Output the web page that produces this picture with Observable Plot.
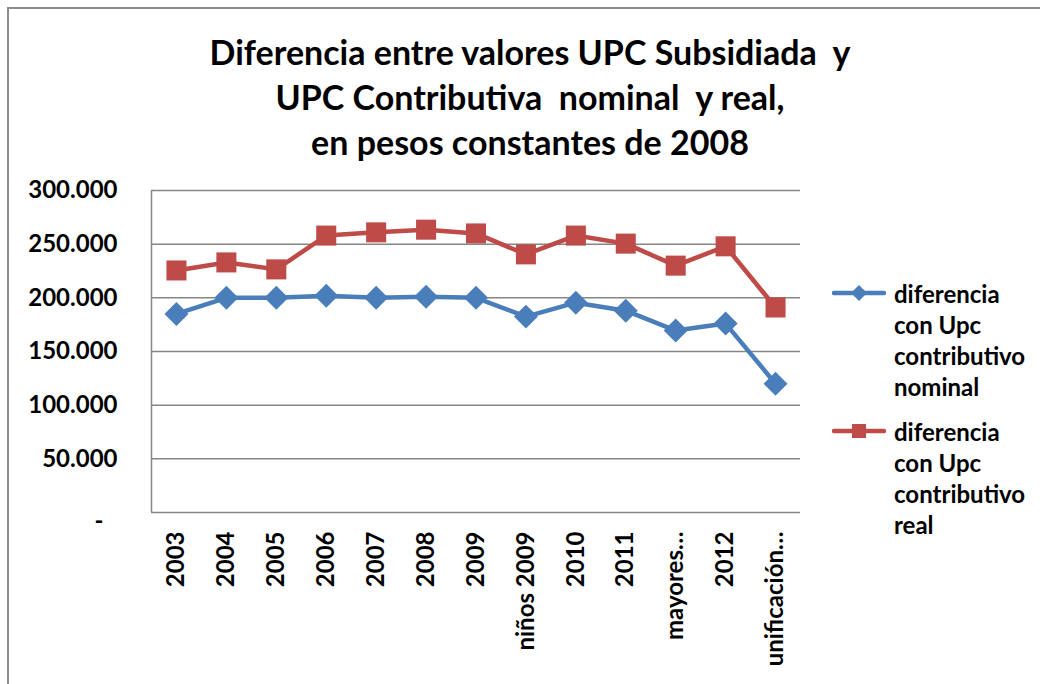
<!DOCTYPE html>
<html>
<head>
<meta charset="utf-8">
<script src="https://cdn.jsdelivr.net/npm/d3@7"></script>
<script src="https://cdn.jsdelivr.net/npm/@observablehq/plot@0.6"></script>
<style>
  html, body { margin: 0; padding: 0; background: #fff; }
  #wrap { position: relative; width: 1040px; height: 684px; overflow: hidden; font-family: Lato, "Open Sans", sans-serif; }
  #border { position: absolute; left: 7px; top: 7px; width: 1100px; height: 800px; border-left: 2px solid #8c8c8c; border-top: 2px solid #8c8c8c; }
  #title { position: absolute; left: 20px; top: 29px; width: 1020px; text-align: center; font-weight: 700; font-size: 34px; line-height: 45px; color: #000; }
  #chart { position: absolute; left: 0; top: 0; }
  #legend { position: absolute; left: 832px; top: 278px; font-weight: 700; font-size: 24px; line-height: 31px; color: #000; }
  .item { display: flex; align-items: flex-start; margin-bottom: 14px; }
  .item svg { flex: none; margin-top: 3px; margin-right: 8px; }
</style>
</head>
<body>
<div id="wrap">
  <div id="border"></div>
  <div id="chart"></div>
  <div id="title">Diferencia entre valores UPC Subsidiada&nbsp; y<br>UPC Contributiva&nbsp; nominal&nbsp; y real,<br>en pesos constantes de 2008</div>
  <div id="legend"></div>
</div>
<script>
const categories = ["2003","2004","2005","2006","2007","2008","2009","niños 2009","2010","2011","mayores…","2012","unificación…"];
const nominal = [185000, 200000, 200000, 202000, 200000, 201000, 200000, 182500, 195500, 188000, 169500, 176000, 120000];
const real = [225500, 233000, 226500, 258000, 261000, 263500, 260000, 240500, 258000, 250500, 230000, 248000, 191000];
const seriesNames = ["diferencia con Upc contributivo nominal", "diferencia con Upc contributivo real"];
const yTicks = [50000, 100000, 150000, 200000, 250000, 300000];
const colors = ["#4a7ebb", "#be4b48"];

const rowsNom = categories.map((c, i) => ({i, cat: c, value: nominal[i]}));
const rowsReal = categories.map((c, i) => ({i, cat: c, value: real[i]}));
const fmt = d3.formatLocale({thousands: ".", decimal: ",", grouping: [3], currency: ["", ""]}).format(",");

const chart = Plot.plot({
  width: 1040,
  height: 684,
  marginTop: 190,
  marginBottom: 172,
  marginLeft: 151,
  marginRight: 240,
  style: {fontFamily: "Lato, 'Open Sans', sans-serif", fontWeight: 700, fontSize: "24px", color: "#000", background: "transparent"},
  x: {type: "linear", domain: [-0.5, categories.length - 0.5]},
  y: {domain: [0, 300000]},
  marks: [
    Plot.gridY(yTicks, {stroke: "#868686", strokeOpacity: 1, strokeWidth: 1.5}),
    Plot.ruleY([0], {stroke: "#868686", strokeWidth: 1.5}),
    Plot.ruleX([-0.5], {stroke: "#868686", strokeWidth: 1.5}),
    Plot.axisY({ticks: yTicks, tickSize: 0, tickPadding: 34, tickFormat: fmt, label: null, fontSize: 24, fontWeight: 700}),
    Plot.text([0], {x: -0.5, y: d => d, text: () => "-", dx: -48, dy: 9, fontSize: 24, fontWeight: 700, textAnchor: "end"}),
    Plot.axisX({ticks: d3.range(categories.length), tickFormat: i => categories[i], tickRotate: -90, tickSize: 0, tickPadding: 19, label: null, fontSize: 24, fontWeight: 700}),
    Plot.line(rowsNom, {x: "i", y: "value", stroke: colors[0], strokeWidth: 4.5}),
    Plot.line(rowsReal, {x: "i", y: "value", stroke: colors[1], strokeWidth: 4.5}),
    Plot.dot(rowsNom, {x: "i", y: "value", symbol: "diamond2", r: 10.8, fill: colors[0], stroke: "none"}),
    Plot.dot(rowsReal, {x: "i", y: "value", symbol: "square", r: 11.3, fill: colors[1], stroke: "none"})
  ]
});
document.getElementById("chart").appendChild(chart);

// legend
const legend = document.getElementById("legend");
const legendLines = [["diferencia", "con Upc", "contributivo", "nominal"], ["diferencia", "con Upc", "contributivo", "real"]];
legendLines.forEach((lines, k) => {
  const item = document.createElement("div");
  item.className = "item";
  const sym = k === 0
    ? `<polygon points="27,4 35,12 27,20 19,12" fill="${colors[0]}"/>`
    : `<rect x="20" y="5" width="14" height="14" fill="${colors[1]}"/>`;
  item.innerHTML = `<svg width="54" height="24"><line x1="2" x2="52" y1="12" y2="12" stroke="${colors[k]}" stroke-width="4.5" stroke-linecap="round"/>${sym}</svg><div title="${seriesNames[k]}">${lines.join("<br>")}</div>`;
  legend.appendChild(item);
});
</script>
</body>
</html>
